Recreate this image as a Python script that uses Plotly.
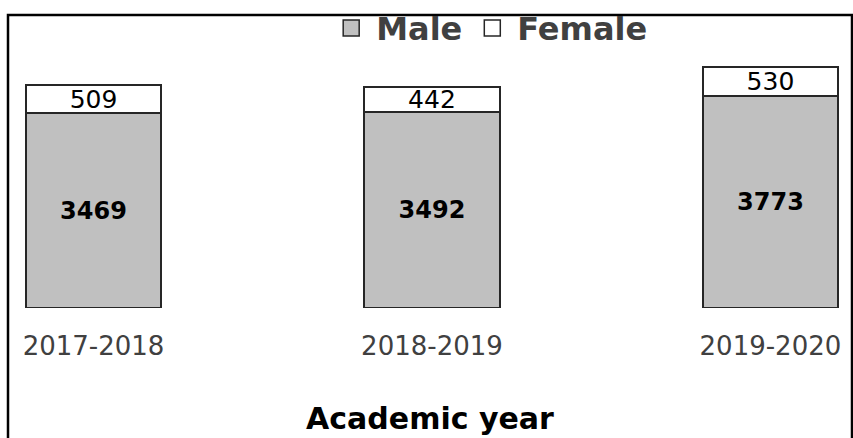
import plotly.graph_objects as go

years = ["2017-2018", "2018-2019", "2019-2020"]
male = [3469, 3492, 3773]
female = [509, 442, 530]

FONT = "DejaVu Sans"
OUTLINE = "#262626"

fig = go.Figure()
fig.add_trace(go.Bar(
    x=years, y=male, name="Male", showlegend=False,
    marker=dict(color="#c0c0c0", line=dict(color=OUTLINE, width=2)),
    text=[str(v) for v in male], textposition="inside", insidetextanchor="middle",
    constraintext="none",
    textfont=dict(family=FONT, size=24, color="black", weight="bold"),
))
fig.add_trace(go.Bar(
    x=years, y=female, name="Female", showlegend=False,
    marker=dict(color="white", line=dict(color=OUTLINE, width=2)),
    text=[str(v) for v in female], textposition="inside", insidetextanchor="middle",
    constraintext="none",
    textfont=dict(family=FONT, size=25, color="black"),
))
# legend proxies (larger square swatches)
fig.add_trace(go.Scatter(x=[None], y=[None], mode="markers", name="Male",
                         marker=dict(symbol="square", size=16, color="#c0c0c0",
                                     line=dict(color=OUTLINE, width=1.5))))
fig.add_trace(go.Scatter(x=[None], y=[None], mode="markers", name="Female",
                         marker=dict(symbol="square", size=16, color="white",
                                     line=dict(color=OUTLINE, width=1.5))))

fig.update_layout(
    width=853, height=438,
    barmode="stack", bargap=0.6,
    margin=dict(l=8, r=1, t=13, b=130),
    plot_bgcolor="white", paper_bgcolor="white",
    font=dict(family=FONT, color="#404040"),
    legend=dict(orientation="h", x=0.377, xanchor="left", y=0.955, yanchor="middle",
                traceorder="normal",
                font=dict(family=FONT, size=32, color="#404040", weight="bold"),
                itemwidth=40, tracegroupgap=0, bgcolor="rgba(0,0,0,0)"),
    xaxis=dict(range=[-0.2526, 2.241], showline=False, showgrid=False, zeroline=False,
               ticks="", ticklabelstandoff=20,
               tickfont=dict(family=FONT, size=26, color="#404040"),
               title=dict(text="Academic year", standoff=47,
                          font=dict(family=FONT, size=30, color="black", weight="bold"))),
    yaxis=dict(range=[0, 5221], visible=False),
    shapes=[dict(type="rect", xref="paper", yref="paper", x0=0, x1=1.0, y0=-2, y1=1,
                 line=dict(color="black", width=2.5), fillcolor="rgba(0,0,0,0)", layer="above")],
)

fig.write_html("out.html", config={"displayModeBar": False},
               post_script="document.body.style.margin='0';")
